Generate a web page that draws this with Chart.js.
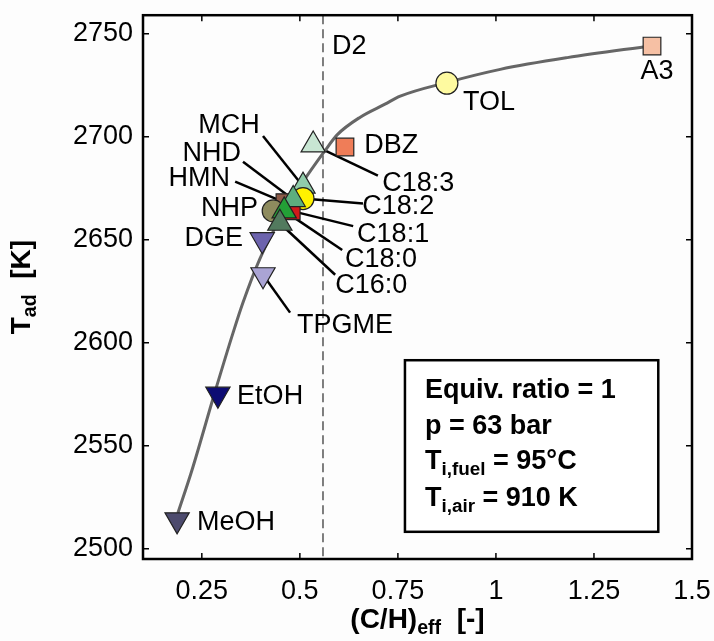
<!DOCTYPE html>
<html>
<head>
<meta charset="utf-8">
<script src="https://cdn.jsdelivr.net/npm/chart.js@4.4.1/dist/chart.umd.min.js"></script>
<style>
  body { margin: 0; background: #fdfdfd; }
  #wrap { width: 714px; height: 641px; position: relative; }
</style>
</head>
<body>
<div id="wrap"><canvas id="tadChart"></canvas></div>
<script>
// fuels, (C/H)eff and adiabatic flame temperature
const fuels = ["MeOH", "EtOH", "TPGME", "DGE", "C18:3", "DBZ", "TOL", "A3", "MCH", "C18:2", "HMN", "C18:1", "NHD", "NHP", "C18:0", "C16:0"];
const ratioCH = [0.187, 0.291, 0.406, 0.404, 0.534, 0.615, 0.875, 1.398, 0.508, 0.508, 0.462, 0.478, 0.483, 0.432, 0.46, 0.449];
const tAd = [2514, 2575, 2633, 2650, 2696, 2695, 2726, 2744, 2676, 2670, 2668, 2664, 2669.5, 2664, 2664, 2658];
const shapes = ["down", "down", "down", "down", "up", "square", "circle", "square", "up", "circle", "square", "square", "up", "circle", "up", "up"];
const colors = ["#4d4b6e", "#0d0c73", "#aaa4d4", "#6c63ad", "#c8e6d3", "#ef7d58", "#fefaa0", "#f6c0a4", "#90ccaa", "#fff200", "#8e5b48", "#d11a1a", "#5dae7e", "#8e8b5e", "#23a036", "#527a5e"];

// grey trend curve
const curveCH = [0.189, 0.224, 0.282, 0.33, 0.355, 0.398, 0.449, 0.5, 0.564, 0.595, 0.654, 0.717, 0.756, 0.876, 1.011, 1.182, 1.398];
const curveT = [2517.3, 2537.6, 2575.1, 2605, 2619.5, 2640.7, 2660, 2675.8, 2693.2, 2700.9, 2709.5, 2715.8, 2719.7, 2726.4, 2732.7, 2738.4, 2744.2];

const xTicks = [0.25, 0.5, 0.75, 1, 1.25, 1.5];
const yTicks = [2500, 2550, 2600, 2650, 2700, 2750];
const d2Ratio = 0.559;

// labels: text, anchor (data), align, leader line start (null = none)
const labelText = ["MeOH", "EtOH", "TPGME", "DGE", "NHP", "HMN", "NHD", "MCH", "C18:3", "C18:2", "C18:1", "C18:0", "C16:0", "DBZ", "TOL", "A3", "D2"];
const labelX = [0.238, 0.34, 0.493, 0.355, 0.393, 0.322, 0.35, 0.398, 0.71, 0.659, 0.646, 0.615, 0.59, 0.664, 0.916, 1.411, 0.582];
const labelY = [2512.5, 2573.7, 2608.4, 2650.8, 2665.2, 2679.7, 2691.7, 2705.2, 2677.3, 2666.2, 2652.7, 2640.2, 2627.6, 2695.6, 2716.8, 2731.7, 2743.7];
const labelAlign = ["left", "left", "left", "right", "right", "right", "right", "right", "left", "left", "left", "left", "left", "left", "left", "center", "left"];
const leaderX = [null, null, 0.475, null, null, 0.335, 0.355, 0.406, 0.699, 0.661, 0.636, 0.608, 0.59, null, null, null, null];
const leaderY = [null, null, 2614.6, null, null, 2678.2, 2687.9, 2700.4, 2681.1, 2667.6, 2656.6, 2645, 2633, null, null, null, null];

const FONT = "'Liberation Sans', Arial, Helvetica, sans-serif";

function styleOf(s) {
  if (s === "circle") return "circle";
  if (s === "square") return "rect";
  return "triangle";
}
function radiusOf(s) {
  if (s === "circle") return 11;
  if (s === "square") return 12.5;
  return 14;
}

// draw text with subscripts; parts = [[text, isSub], ...]
function richText(ctx, parts, x, y, size, align) {
  let w = 0;
  parts.forEach((p) => {
    ctx.font = "bold " + (p[1] ? size * 0.7 : size) + "px " + FONT;
    w += ctx.measureText(p[0]).width;
  });
  let cx = align === "center" ? x - w / 2 : x;
  parts.forEach((p) => {
    ctx.font = "bold " + (p[1] ? size * 0.7 : size) + "px " + FONT;
    ctx.fillText(p[0], cx, p[1] ? y + size * 0.32 : y);
    cx += ctx.measureText(p[0]).width;
  });
}

const overlay = {
  id: "overlay",
  beforeDatasetsDraw(chart) {
    const { ctx, chartArea: a, scales: { x, y } } = chart;
    ctx.save();
    // D2 dashed line
    ctx.strokeStyle = "#555";
    ctx.lineWidth = 1.5;
    ctx.setLineDash([9, 5]);
    ctx.beginPath();
    ctx.moveTo(x.getPixelForValue(d2Ratio), a.top);
    ctx.lineTo(x.getPixelForValue(d2Ratio), a.bottom);
    ctx.stroke();
    ctx.setLineDash([]);
    // leader lines to the markers
    ctx.strokeStyle = "#000";
    ctx.lineWidth = 2.5;
    labelText.forEach((t, i) => {
      if (leaderX[i] === null) return;
      const k = fuels.indexOf(t);
      ctx.beginPath();
      ctx.moveTo(x.getPixelForValue(leaderX[i]), y.getPixelForValue(leaderY[i]));
      ctx.lineTo(x.getPixelForValue(ratioCH[k]), y.getPixelForValue(tAd[k]));
      ctx.stroke();
    });
    ctx.restore();
  },
  afterDatasetsDraw(chart) {
    const { ctx, chartArea: a, scales: { x, y } } = chart;
    ctx.save();
    // axes frame with inward ticks
    ctx.strokeStyle = "#000";
    ctx.lineWidth = 2.5;
    ctx.strokeRect(a.left, a.top, a.right - a.left, a.bottom - a.top);
    ctx.lineWidth = 1.5;
    ctx.beginPath();
    xTicks.forEach((v) => {
      const px = x.getPixelForValue(v);
      ctx.moveTo(px, a.bottom); ctx.lineTo(px, a.bottom - 6);
      ctx.moveTo(px, a.top); ctx.lineTo(px, a.top + 6);
    });
    yTicks.forEach((v) => {
      const py = y.getPixelForValue(v);
      ctx.moveTo(a.left, py); ctx.lineTo(a.left + 6, py);
      ctx.moveTo(a.right, py); ctx.lineTo(a.right - 6, py);
    });
    ctx.stroke();

    // marker labels
    ctx.fillStyle = "#000";
    ctx.textBaseline = "middle";
    ctx.font = "27px " + FONT;
    labelText.forEach((t, i) => {
      ctx.textAlign = labelAlign[i];
      ctx.fillText(t, x.getPixelForValue(labelX[i]), y.getPixelForValue(labelY[i]));
    });

    // condition box
    const bl = x.getPixelForValue(0.768), br = x.getPixelForValue(1.414);
    const bt = y.getPixelForValue(2591.5), bb = y.getPixelForValue(2508.2);
    ctx.fillStyle = "#fff";
    ctx.fillRect(bl, bt, br - bl, bb - bt);
    ctx.lineWidth = 2.5;
    ctx.strokeRect(bl, bt, br - bl, bb - bt);
    ctx.fillStyle = "#000";
    ctx.textAlign = "left";
    const tx = bl + 20;
    richText(ctx, [["Equiv. ratio = 1", false]], tx, bt + 30, 27, "left");
    richText(ctx, [["p = 63 bar", false]], tx, bt + 66, 27, "left");
    richText(ctx, [["T", false], ["i,fuel", true], [" = 95°C", false]], tx, bt + 101, 27, "left");
    richText(ctx, [["T", false], ["i,air", true], [" = 910 K", false]], tx, bt + 138, 27, "left");

    // axis titles
    richText(ctx, [["(C/H)", false], ["eff", true], ["  [-]", false]], (a.left + a.right) / 2, 620, 28, "center");
    ctx.translate(22, (a.top + a.bottom) / 2);
    ctx.rotate(-Math.PI / 2);
    richText(ctx, [["T", false], ["ad", true], ["  [K]", false]], 0, 0, 28, "center");
    ctx.restore();
  }
};

new Chart(document.getElementById("tadChart"), {
  type: "scatter",
  data: {
    datasets: [
      {
        label: "fuels",
        data: fuels.map((f, i) => ({ x: ratioCH[i], y: tAd[i] })),
        pointStyle: shapes.map(styleOf),
        pointRotation: shapes.map((s) => (s === "down" ? 180 : 0)),
        pointRadius: shapes.map(radiusOf),
        backgroundColor: colors,
        borderColor: "#222",
        borderWidth: 1.2,
        order: 0
      },
      {
        label: "trend",
        data: curveCH.map((v, i) => ({ x: v, y: curveT[i] })),
        showLine: true,
        cubicInterpolationMode: "monotone",
        borderColor: "#666",
        borderWidth: 3,
        pointRadius: 0,
        order: 1
      }
    ]
  },
  options: {
    responsive: true,
    maintainAspectRatio: false,
    animation: false,
    events: [],
    layout: { padding: { top: 10, right: 22, left: 0, bottom: 0 } },
    plugins: { legend: { display: false }, tooltip: { enabled: false } },
    scales: {
      x: {
        type: "linear",
        min: 0.1,
        max: 1.5,
        afterBuildTicks: (s) => { s.ticks = xTicks.map((v) => ({ value: v })); },
        afterFit: (s) => { s.height = 82; s.paddingLeft = 0; s.paddingRight = 0; },
        grid: { display: false, drawTicks: false },
        border: { display: false },
        ticks: {
          color: "#000",
          padding: 16,
          maxRotation: 0,
          font: { family: FONT, size: 27 },
          callback: (v) => String(v)
        }
      },
      y: {
        type: "linear",
        min: 2495,
        max: 2759,
        afterBuildTicks: (s) => { s.ticks = yTicks.map((v) => ({ value: v })); },
        afterFit: (s) => { s.width = 143; s.paddingTop = 0; s.paddingBottom = 0; },
        grid: { display: false, drawTicks: false },
        border: { display: false },
        ticks: {
          color: "#000",
          padding: 10,
          font: { family: FONT, size: 27 },
          callback: (v) => String(v)
        }
      }
    }
  },
  plugins: [overlay]
});
</script>
</body>
</html>
